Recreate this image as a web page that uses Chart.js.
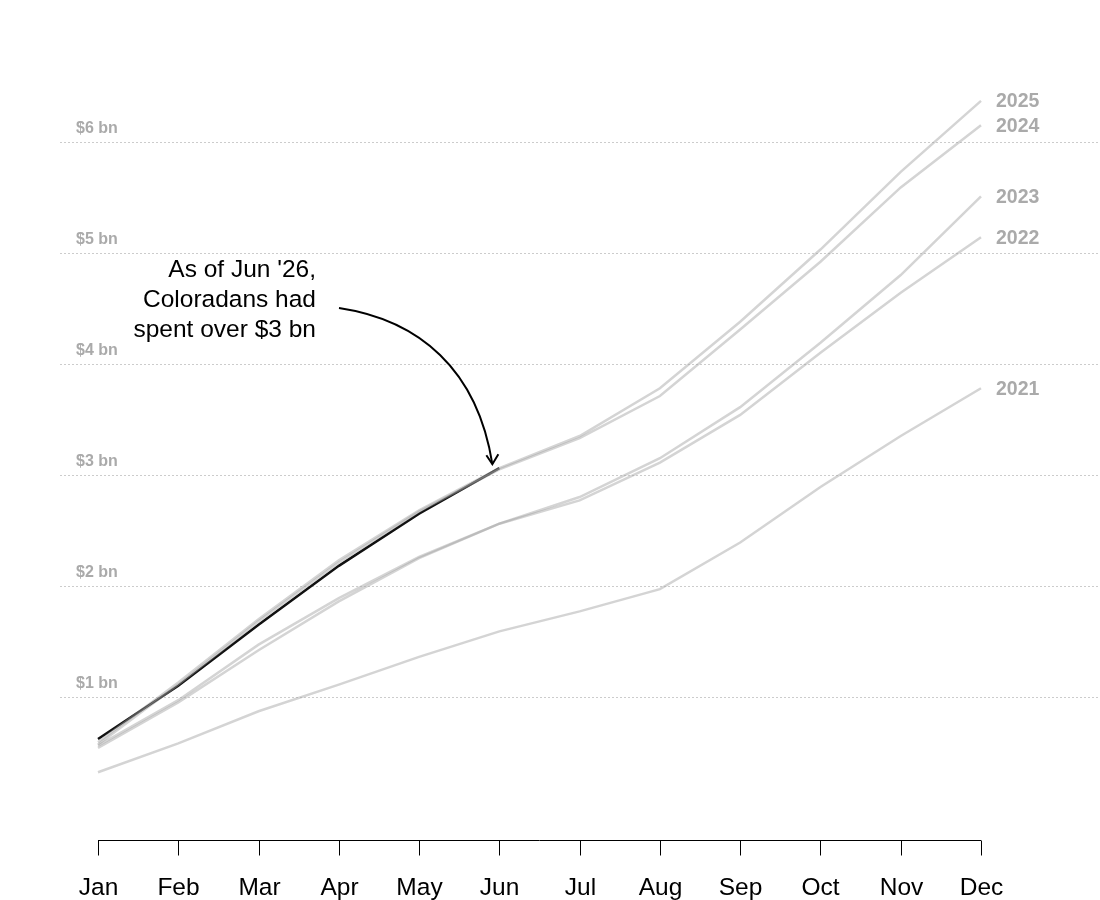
<!DOCTYPE html>
<html>
<head>
<meta charset="utf-8">
<script src="https://cdn.jsdelivr.net/npm/chart.js@4"></script>
<style>
body{margin:0;background:#fff;}
#wrap{width:1100px;height:900px;}
</style>
</head>
<body>
<div id="wrap"><canvas id="chart" width="1100" height="900"></canvas></div>
<script>

/* DATA */

let months = ["Jan","Feb","Mar","Apr","May","Jun","Jul","Aug","Sep","Oct","Nov","Dec"];

let y2021 = [0.32,0.58,0.87,1.11,1.36,1.59,1.77,1.97,2.39,2.89,3.35,3.78];
let y2022 = [0.54,0.95,1.42,1.86,2.25,2.56,2.77,3.11,3.54,4.10,4.64,5.14];
let y2023 = [0.56,0.97,1.47,1.89,2.26,2.56,2.80,3.15,3.61,4.19,4.80,5.51];
let y2024 = [0.57,1.11,1.68,2.21,2.67,3.05,3.33,3.71,4.31,4.92,5.59,6.15];
let y2025 = [0.59,1.13,1.70,2.23,2.68,3.06,3.35,3.78,4.38,5.03,5.73,6.37];
let y2026 = [0.62,1.10,1.65,2.18,2.65,3.06];

let yearNames = ["2021","2022","2023","2024","2025"];

let yTicks = [1,2,3,4,5,6];
let yTickLabels = ["$1 bn","$2 bn","$3 bn","$4 bn","$5 bn","$6 bn"];

let noteLines = ["As of Jun '26,","Coloradans had","spent over $3 bn"];


/* DRAW HELPERS */

const grey = "rgba(160,160,160,0.45)";
const labelGrey = "#aaaaaa";

const decor = {
id:"decor",
beforeDatasetsDraw(c){
let ctx = c.ctx;
let x = c.scales.x, y = c.scales.y;
ctx.save();
// dotted grid
ctx.strokeStyle = "#cccccc";
ctx.lineWidth = 1;
ctx.setLineDash([2,2]);
ctx.font = "bold 16px 'Liberation Sans', Arial, sans-serif";
ctx.fillStyle = labelGrey;
ctx.textAlign = "left";
ctx.textBaseline = "alphabetic";
yTicks.forEach((v,i)=>{
let py = Math.round(y.getPixelForValue(v))+0.5;
ctx.beginPath();
ctx.moveTo(60,py);
ctx.lineTo(1100,py);
ctx.stroke();
ctx.fillText(yTickLabels[i],76,py-10);
});
ctx.setLineDash([]);
// x axis
let base = Math.round(c.chartArea.bottom)+0.5;
ctx.strokeStyle = "#000";
ctx.lineWidth = 1;
ctx.beginPath();
ctx.moveTo(x.getPixelForValue(0),base);
ctx.lineTo(x.getPixelForValue(months.length-1),base);
ctx.stroke();
ctx.font = "24.5px 'Liberation Sans', Arial, sans-serif";
ctx.fillStyle = "#000";
ctx.textAlign = "center";
ctx.textBaseline = "middle";
months.forEach((m,i)=>{
let px = Math.round(x.getPixelForValue(i))+0.5;
ctx.beginPath();
ctx.moveTo(px,base);
ctx.lineTo(px,base+15);
ctx.stroke();
ctx.fillText(m,px,base+48);
});
ctx.restore();
},
afterDatasetsDraw(c){
let ctx = c.ctx;
let x = c.scales.x, y = c.scales.y;
ctx.save();
// year labels at Dec
let series = [y2021,y2022,y2023,y2024,y2025];
ctx.font = "bold 19.5px 'Liberation Sans', Arial, sans-serif";
ctx.fillStyle = labelGrey;
ctx.textAlign = "left";
ctx.textBaseline = "middle";
series.forEach((s,i)=>{
let last = s.length-1;
ctx.fillText(yearNames[i],x.getPixelForValue(last)+15,y.getPixelForValue(s[last])+1);
});
// annotation text
ctx.font = "24.5px 'Liberation Sans', Arial, sans-serif";
ctx.fillStyle = "#000";
ctx.textAlign = "right";
noteLines.forEach((t,i)=>{
ctx.fillText(t,316,270+i*30);
});
// arrow to last 2026 point
let last = y2026.length-1;
let ex = x.getPixelForValue(last)-7;
let ey = y.getPixelForValue(y2026[last])-4;
let sx = 339, sy = 308;
ctx.strokeStyle = "#000";
ctx.lineWidth = 2;
ctx.beginPath();
ctx.moveTo(sx,sy);
ctx.bezierCurveTo(sx+80,sy+12,ex-15,ey-95,ex,ey);
ctx.stroke();
ctx.beginPath();
ctx.moveTo(ex-6,ey-9);
ctx.lineTo(ex,ey);
ctx.lineTo(ex+6,ey-10);
ctx.stroke();
ctx.restore();
}
};


/* CHART */

function line(data,color,width){
return {data:data,borderColor:color,borderWidth:width,pointRadius:0,tension:0,fill:false,borderCapStyle:"butt"};
}

function initChart(){

const ctx = document.getElementById("chart");

new Chart(ctx,{
type:"line",
data:{
labels:months,
datasets:[
line(y2021,grey,2.5),
line(y2022,grey,2.5),
line(y2023,grey,2.5),
line(y2024,grey,2.5),
line(y2025,grey,2.5),
line(y2026,"#111111",2.5)
]
},
options:{
responsive:false,
animation:false,
layout:{padding:{left:98,right:119,top:42,bottom:60}},
plugins:{legend:{display:false},tooltip:{enabled:false}},
scales:{
x:{display:false,offset:false},
y:{display:false,min:-0.29,max:6.9}
}
},
plugins:[decor]
});

}

window.onload = initChart;

</script>
</body>
</html>
